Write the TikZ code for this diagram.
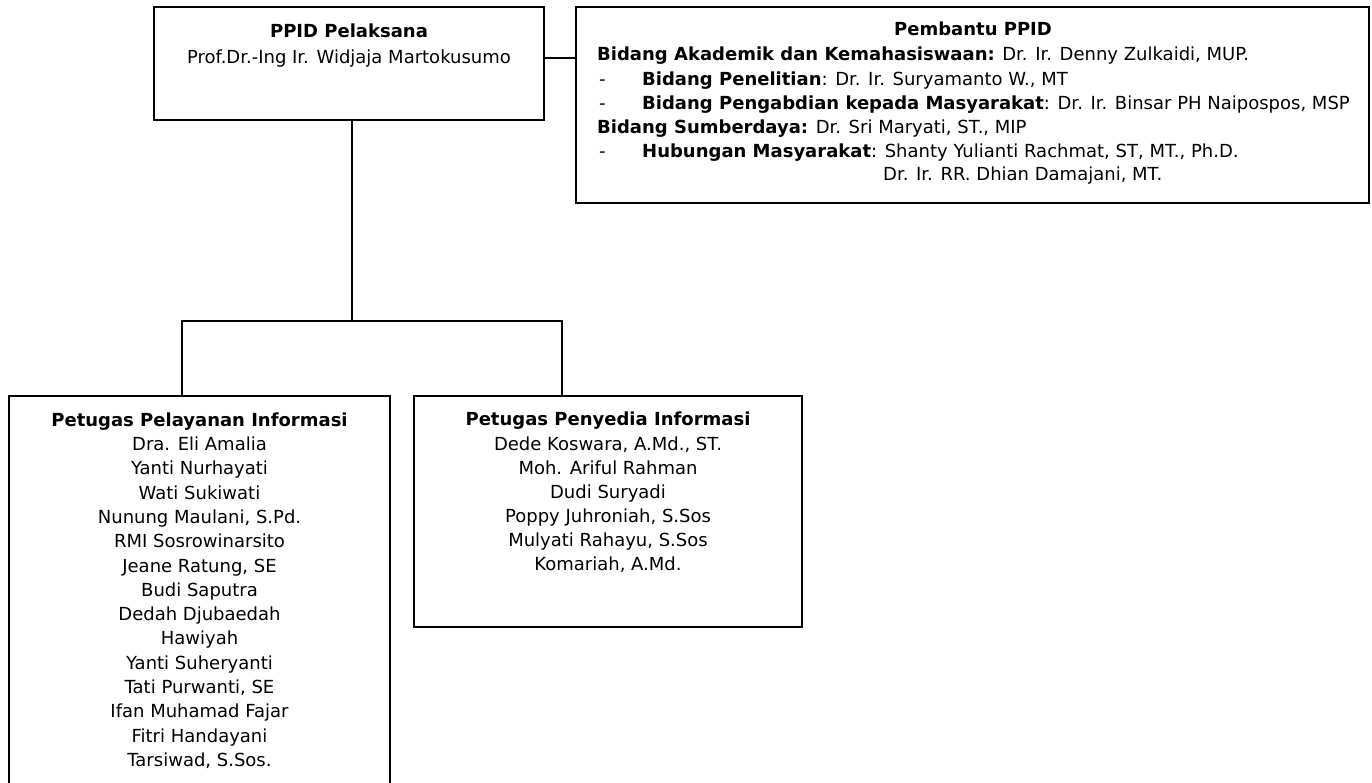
\documentclass[tikz,border=0pt]{standalone}
\usepackage{fontspec}
\setmainfont{DejaVu Sans}
\newcommand\fsz{\fontsize{18}{24}\selectfont}
\begin{document}
\begin{tikzpicture}[x=1pt,y=-1pt,
  box/.style={draw,line width=2pt,inner sep=0pt},
  wire/.style={line width=2pt},
  ctxt/.style={inner sep=0pt,anchor=base,font=\fsz},
  ltxt/.style={inner sep=0pt,anchor=base west,font=\fsz}]
\useasboundingbox (0,0) rectangle (1372,782);
\clip (0,0) rectangle (1372,782);
% boxes
\node[box,minimum width=390pt,minimum height=113pt] (b1) at (349,63.5) {};
\node[box,minimum width=793pt,minimum height=196pt] (b2) at (972.5,105) {};
\node[box,minimum width=381pt,minimum height=404pt] (b3) at (199.5,598) {};
\node[box,minimum width=388pt,minimum height=231pt] (b4) at (608,511.5) {};
% box 1 text
\node[ctxt] (t1) at (349,37.5) {\textbf{PPID Pelaksana}};
\node[ctxt] (t2) at (349,63.5) {Prof.Dr.-Ing Ir. Widjaja Martokusumo};
% box 2 text
\node[ctxt] (p0) at (973,35.5) {\textbf{Pembantu PPID}};
\node[ltxt] (p1) at (597,60.5) {\textbf{Bidang Akademik dan Kemahasiswaan:} Dr. Ir. Denny Zulkaidi, MUP.};
\node[ltxt] (d2) at (599,85.5) {-};
\node[ltxt] (p2) at (642,85.5) {\textbf{Bidang Penelitian}: Dr. Ir. Suryamanto W., MT};
\node[ltxt] (d3) at (599,109.5) {-};
\node[ltxt] (p3) at (642,109.5) {\textbf{Bidang Pengabdian kepada Masyarakat}: Dr. Ir. Binsar PH Naipospos, MSP};
\node[ltxt] (p4) at (597,133.5) {\textbf{Bidang Sumberdaya:} Dr. Sri Maryati, ST., MIP};
\node[ltxt] (d5) at (599,157.5) {-};
\node[ltxt] (p5) at (642,157.5) {\textbf{Hubungan Masyarakat}: Shanty Yulianti Rachmat, ST, MT., Ph.D.};
\node[ltxt] (p6) at (883,180.5) {Dr. Ir. RR. Dhian Damajani, MT.};
% box 3 text
\node[ctxt] (s0) at (199.5,426.5) {\textbf{Petugas Pelayanan Informasi}};
\foreach \n [count=\i from 0] in {Dra. Eli Amalia,Yanti Nurhayati,Wati Sukiwati,{Nunung Maulani, S.Pd.},RMI Sosrowinarsito,{Jeane Ratung, SE},Budi Saputra,Dedah Djubaedah,Hawiyah,Yanti Suheryanti,{Tati Purwanti, SE},Ifan Muhamad Fajar,Fitri Handayani,{Tarsiwad, S.Sos.}}
  \node[ctxt] (s\i n) at (199.5,450.5+24.3*\i) {\n};
% box 4 text
\node[ctxt] (q0) at (608,425.5) {\textbf{Petugas Penyedia Informasi}};
\foreach \n [count=\i from 0] in {{Dede Koswara, A.Md., ST.},Moh. Ariful Rahman,Dudi Suryadi,{Poppy Juhroniah, S.Sos},{Mulyati Rahayu, S.Sos},{Komariah, A.Md.}}
  \node[ctxt] (q\i n) at (608,450.5+24*\i) {\n};
% connectors
\coordinate (j) at (352,321);
\coordinate (l) at (182,321);
\coordinate (r) at (562,321);
\draw[wire] (b1.east |- p1.mid) -- (b2.west |- p1.mid);
\draw[wire] (b1.south -| j) -- (j);
\draw[wire] (b3.north -| l) -- (l) -- (r) -- (b4.north -| r);
\end{tikzpicture}
\end{document}
